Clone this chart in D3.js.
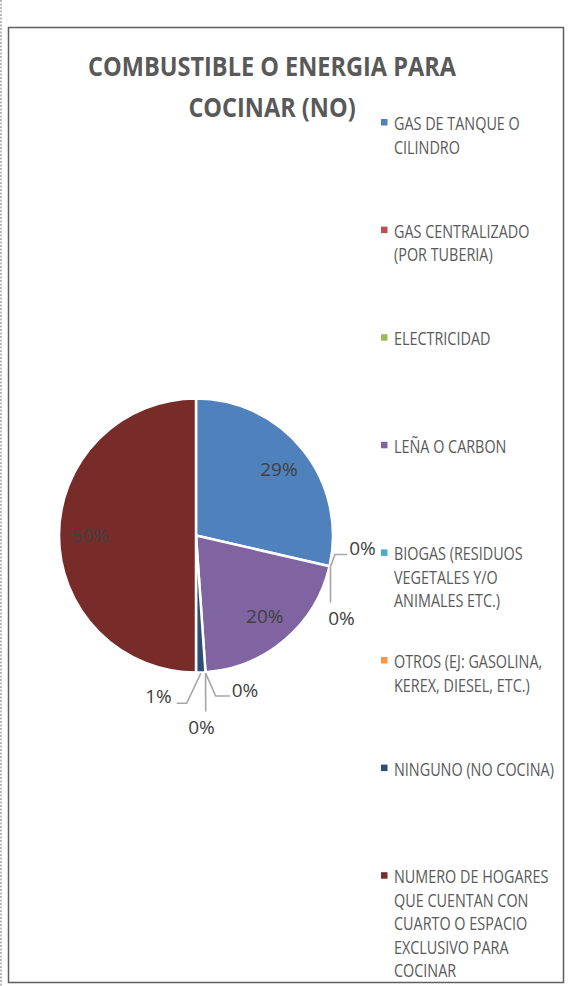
<!DOCTYPE html>
<html>
<head>
<meta charset="utf-8">
<script src="https://cdn.jsdelivr.net/npm/d3@7"></script>
<style>
  html, body { margin: 0; padding: 0; background: #fff; }
  svg { display: block; }
</style>
</head>
<body>
<svg id="chart" width="572" height="986"></svg>
<script>
// ---- DATA ----
const titleLines = ["COMBUSTIBLE O ENERGIA PARA", "COCINAR (NO)"];
const categories = [
  "GAS DE TANQUE O CILINDRO",
  "GAS CENTRALIZADO (POR TUBERIA)",
  "ELECTRICIDAD",
  "LEÑA O CARBON",
  "BIOGAS (RESIDUOS VEGETALES Y/O ANIMALES ETC.)",
  "OTROS (EJ: GASOLINA, KEREX, DIESEL, ETC.)",
  "NINGUNO (NO COCINA)",
  "NUMERO DE HOGARES QUE CUENTAN CON CUARTO O ESPACIO EXCLUSIVO PARA COCINAR"
];
const legendLines = [
  ["GAS DE TANQUE O", "CILINDRO"],
  ["GAS CENTRALIZADO", "(POR TUBERIA)"],
  ["ELECTRICIDAD"],
  ["LEÑA O CARBON"],
  ["BIOGAS (RESIDUOS", "VEGETALES Y/O", "ANIMALES ETC.)"],
  ["OTROS (EJ: GASOLINA,", "KEREX, DIESEL, ETC.)"],
  ["NINGUNO (NO COCINA)"],
  ["NUMERO DE HOGARES", "QUE CUENTAN CON", "CUARTO O ESPACIO", "EXCLUSIVO PARA", "COCINAR"]
];
const values = [28.6, 0, 0, 20.3, 0, 0, 1.1, 50.0];
const colors = ["#4f81bd", "#c0504d", "#9bbb59", "#8064a2", "#4bacc6", "#f79646", "#2c4d75", "#772c2a"];

// ---- LAYOUT ----
const cx = 196, cy = 535.5, R = 137, labelR = 106;
// leader-line layout for small slices (offsets relative to pie centre)
const smallLabelLayout = {
  1: { text: [166.5, 13],  pts: [[139, 19], [151, 19]] },
  2: { text: [145.5, 83],  pts: [[134.5, 67]] },
  4: { text: [49, 155],    pts: [[19.7, 160.5], [34, 160.5]] },
  5: { text: [5.5, 192],   pts: [[9.7, 176]] },
  6: { text: [-37.5, 161], pts: [[-9.3, 167.8], [-19.3, 167.8]] }
};

const svg = d3.select("#chart");
const font = "'Open Sans', 'Liberation Sans', sans-serif";

// page dotted edge
svg.append("line").attr("x1", 1).attr("x2", 1).attr("y1", 0).attr("y2", 986)
  .attr("stroke", "#8a8a8a").attr("stroke-width", 1.2).attr("stroke-dasharray", "2,1.5");

// chart frame
svg.append("rect").attr("x", 8.5).attr("y", 27.5).attr("width", 555).attr("height", 955)
  .attr("fill", "#fff").attr("stroke", "#5f5f5f").attr("stroke-width", 1.5);

// title (centred, condensed to Calibri-like width)
const tg = svg.append("g");
const t1 = tg.append("text").text(titleLines[0])
  .attr("font-family", font).attr("font-weight", 700).attr("font-size", 27)
  .attr("fill", "#595959").attr("text-anchor", "middle");
const tsx = 368 / t1.node().getComputedTextLength();
t1.attr("transform", `translate(272,76) scale(${tsx},1)`);
tg.append("text").text(titleLines[1])
  .attr("font-family", font).attr("font-weight", 700).attr("font-size", 27)
  .attr("fill", "#595959").attr("text-anchor", "middle")
  .attr("transform", `translate(272,117) scale(${tsx},1)`);

// pie
const pie = d3.pie().sort(null).value(d => d);
const arcs = pie(values);
const arc = d3.arc().innerRadius(0).outerRadius(R);
const g = svg.append("g").attr("transform", `translate(${cx},${cy})`);

g.selectAll("path.slice").data(arcs.filter(d => d.value > 0)).enter().append("path")
  .attr("class", "slice")
  .attr("d", arc)
  .attr("fill", d => colors[d.index])
  .attr("stroke", "#fff").attr("stroke-width", 2.5).attr("stroke-linejoin", "round");

const total = d3.sum(values);
const pct = v => Math.round(v / total * 100) + "%";
const labelArc = d3.arc().innerRadius(labelR).outerRadius(labelR);
const edgeArc = d3.arc().innerRadius(R + 1).outerRadius(R + 1);

arcs.forEach(d => {
  const lay = smallLabelLayout[d.index];
  if (!lay) {
    const [x, y] = labelArc.centroid(d);
    g.append("text").attr("x", x).attr("y", y).attr("dy", "0.36em")
      .attr("text-anchor", "middle")
      .attr("font-family", font).attr("font-size", 19).attr("fill", "#404040")
      .text(pct(d.value));
  } else {
    const start = edgeArc.centroid(d);
    const pts = [start].concat(lay.pts);
    g.append("path").attr("d", d3.line()(pts))
      .attr("fill", "none").attr("stroke", "#a6a6a6").attr("stroke-width", 1.6);
    g.append("text").attr("x", lay.text[0]).attr("y", lay.text[1]).attr("dy", "0.36em")
      .attr("text-anchor", "middle")
      .attr("font-family", font).attr("font-size", 19).attr("fill", "#404040")
      .text(pct(d.value));
  }
});

// legend
const lg = svg.append("g");
const probe = lg.append("text").attr("font-family", font).attr("font-size", 18.5)
  .text("NINGUNO (NO COCINA)");
const lsx = 160 / probe.node().getComputedTextLength();
probe.remove();

const legendTop = 130, itemStep = 107.6, lineStep = 23.5;
categories.forEach((c, i) => {
  const y0 = legendTop + i * itemStep;
  lg.append("rect").attr("x", 381).attr("y", y0 - 11).attr("width", 6.5).attr("height", 6.5)
    .attr("fill", colors[i]);
  legendLines[i].forEach((ln, j) => {
    lg.append("text").text(ln)
      .attr("font-family", font).attr("font-size", 18.5).attr("fill", "#595959")
      .attr("transform", `translate(394,${y0 + j * lineStep}) scale(${lsx},1)`);
  });
});
</script>
</body>
</html>
